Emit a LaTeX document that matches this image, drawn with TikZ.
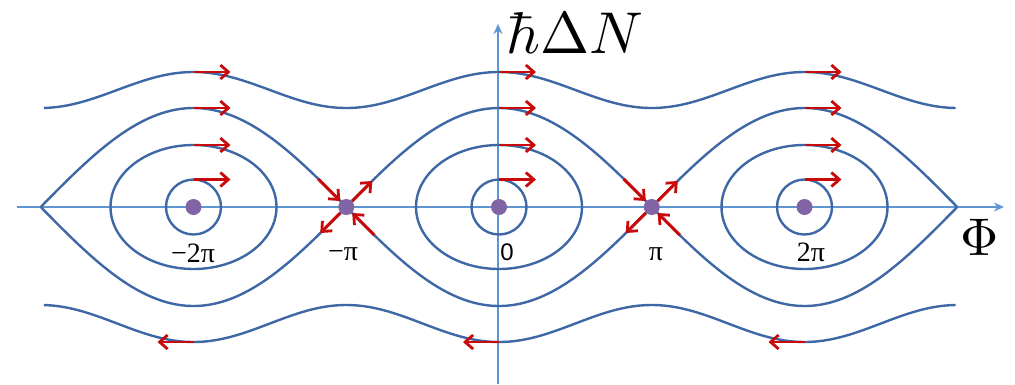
\documentclass[tikz,border=0pt]{standalone}
\usepackage{fontspec}
\newfontfamily\serifL{Liberation Serif}
\newfontfamily\sansL{Liberation Sans}
\usetikzlibrary{arrows.meta,calc}
\definecolor{curveblue}{RGB}{62,104,165}
\definecolor{axisblue}{RGB}{95,150,210}
\definecolor{flowred}{RGB}{200,10,10}
\definecolor{dotpurple}{RGB}{128,100,165}
\tikzset{
  curve/.style={draw=curveblue, line width=2.4pt},
  axisline/.style={draw=axisblue, line width=2.2pt, -{Stealth[length=10pt,width=9pt]}},
  flow/.style={draw=flowred, line width=2.9pt, -{Straight Barb[length=8pt,width=14pt,line width=2.8pt]}},
  fixpt/.style={circle, fill=dotpurple, inner sep=0pt, minimum size=16pt},
  ticklab/.style={font=\serifL\fontsize{28}{28}\selectfont, inner sep=0pt},
}
\begin{document}
\begin{tikzpicture}[x=1pt,y=-1pt]
\useasboundingbox (0,0) rectangle (1015,384);
\def\xc{499}
\def\pp{152.75}
% axes
\coordinate (hs) at (17,207);
\coordinate (he) at (1004,207);
\coordinate (vs) at (498,384);
\coordinate (ve) at (498,24);
\draw[axisline] (hs) -- (he);
\draw[axisline] (vs) -- (ve);
% rotating orbits
\draw[curve] plot[domain=-2.98:2.99, samples=241, smooth] ({\xc+\pp*\x}, {207-(117+18*cos(180*\x))});
\draw[curve] plot[domain=-2.98:2.99, samples=241, smooth] ({\xc+\pp*\x}, {207+(116.5+18.5*cos(180*\x))});
% separatrices
\foreach \k in {-2,0,2}{
  \draw[curve] plot[domain={\k-1}:{\k+1}, samples=81, smooth] ({\xc+\pp*\x}, {207-99*abs(cos(90*\x))});
  \draw[curve] plot[domain={\k-1}:{\k+1}, samples=81, smooth] ({\xc+\pp*\x}, {207+99*abs(cos(90*\x))});
}
% closed orbits
\foreach \k in {-2,0,2}{
  \coordinate (c\k) at ({\xc+\pp*\k},207);
  \draw[curve] (c\k) ellipse[x radius=83, y radius=62];
  \draw[curve] (c\k) circle[radius=27.5];
}
% flow arrows
\foreach \k in {-2,0,2}{
  \foreach \yy in {72,108,145,179.5}{
    \coordinate (ta) at ({\xc+\pp*\k},\yy);
    \coordinate (tb) at ({\xc+\pp*\k+37},\yy);
    \draw[flow] (ta) -- (tb);
  }
  \coordinate (ba) at ({\xc+\pp*\k},342);
  \coordinate (bb) at ({\xc+\pp*\k-36},342);
  \draw[flow] (ba) -- (bb);
}
% saddle arrows
\foreach \k in {-1,1}{
  \coordinate (s) at ({\xc+\pp*\k},207);
  \draw[flow] ($(s)+(-28,-28)$) -- ($(s)+(-6,-6)$);
  \draw[flow] ($(s)+(28,28)$) -- ($(s)+(6,6)$);
  \draw[flow] ($(s)+(6,-6)$) -- ($(s)+(26,-26)$);
  \draw[flow] ($(s)+(-6,6)$) -- ($(s)+(-26,26)$);
}
% fixed points
\foreach \k in {-2,-1,0,1,2}{
  \node[fixpt] (p\k) at ({\xc+\pp*\k},207) {};
}
% labels
\node[ticklab] (lm2) at (193,253) {−2π};
\node[ticklab] (lm1) at (343,254) {−π};
\node[inner sep=0pt, font=\sansL\fontsize{24}{24}\selectfont] (l0) at (507,252) {0};
\node[ticklab] (l1) at (656,254) {π};
\node[ticklab] (l2) at (811,252) {2π};
\node[inner sep=0pt, anchor=base west, scale=5.9] (ylab) at (505,53) {$\hbar\Delta N$};
\node[inner sep=0pt, scale=5.3] (xlab) at (980,237) {$\Phi$};
\end{tikzpicture}
\end{document}
